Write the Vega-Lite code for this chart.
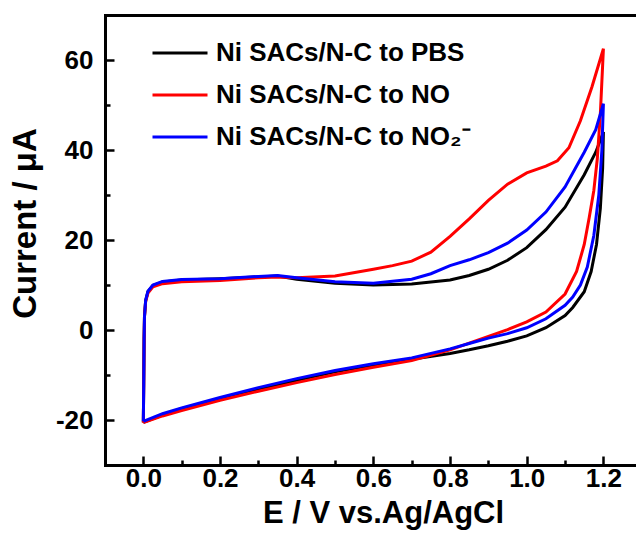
{
  "$schema": "https://vega.github.io/schema/vega-lite/v6.json",
  "width": 531,
  "height": 450,
  "autosize": {"type": "none"},
  "padding": {"left": 105, "top": 15, "right": 0, "bottom": 86},
  "background": "white",
  "config": {
    "view": {"stroke": null},
    "font": "Liberation Sans",
    "axis": {"grid": false, "domainColor": "black", "tickColor": "black", "labelColor": "black", "titleColor": "black", "domainCap": "square"}
  },
  "data": {
    "values": [
      {"s": "Ni SACs/N-C to PBS", "k": 0, "E": 0, "I": -20.5},
      {"s": "Ni SACs/N-C to PBS", "k": 1, "E": 0.001, "I": -12},
      {"s": "Ni SACs/N-C to PBS", "k": 2, "E": 0.002, "I": -2},
      {"s": "Ni SACs/N-C to PBS", "k": 3, "E": 0.003, "I": 3},
      {"s": "Ni SACs/N-C to PBS", "k": 4, "E": 0.006, "I": 6.5},
      {"s": "Ni SACs/N-C to PBS", "k": 5, "E": 0.012, "I": 8.5},
      {"s": "Ni SACs/N-C to PBS", "k": 6, "E": 0.025, "I": 9.9},
      {"s": "Ni SACs/N-C to PBS", "k": 7, "E": 0.05, "I": 10.7},
      {"s": "Ni SACs/N-C to PBS", "k": 8, "E": 0.1, "I": 11.1},
      {"s": "Ni SACs/N-C to PBS", "k": 9, "E": 0.2, "I": 11.4},
      {"s": "Ni SACs/N-C to PBS", "k": 10, "E": 0.3, "I": 11.8},
      {"s": "Ni SACs/N-C to PBS", "k": 11, "E": 0.35, "I": 12},
      {"s": "Ni SACs/N-C to PBS", "k": 12, "E": 0.4, "I": 11.3},
      {"s": "Ni SACs/N-C to PBS", "k": 13, "E": 0.5, "I": 10.4},
      {"s": "Ni SACs/N-C to PBS", "k": 14, "E": 0.6, "I": 10.0},
      {"s": "Ni SACs/N-C to PBS", "k": 15, "E": 0.7, "I": 10.2},
      {"s": "Ni SACs/N-C to PBS", "k": 16, "E": 0.8, "I": 11.1},
      {"s": "Ni SACs/N-C to PBS", "k": 17, "E": 0.85, "I": 12.1},
      {"s": "Ni SACs/N-C to PBS", "k": 18, "E": 0.9, "I": 13.5},
      {"s": "Ni SACs/N-C to PBS", "k": 19, "E": 0.95, "I": 15.5},
      {"s": "Ni SACs/N-C to PBS", "k": 20, "E": 1.0, "I": 18.3},
      {"s": "Ni SACs/N-C to PBS", "k": 21, "E": 1.05, "I": 22.3},
      {"s": "Ni SACs/N-C to PBS", "k": 22, "E": 1.1, "I": 27.3},
      {"s": "Ni SACs/N-C to PBS", "k": 23, "E": 1.15, "I": 34.5},
      {"s": "Ni SACs/N-C to PBS", "k": 24, "E": 1.18, "I": 39.5},
      {"s": "Ni SACs/N-C to PBS", "k": 25, "E": 1.2, "I": 44},
      {"s": "Ni SACs/N-C to PBS", "k": 26, "E": 1.198, "I": 36},
      {"s": "Ni SACs/N-C to PBS", "k": 27, "E": 1.192, "I": 27},
      {"s": "Ni SACs/N-C to PBS", "k": 28, "E": 1.182, "I": 19},
      {"s": "Ni SACs/N-C to PBS", "k": 29, "E": 1.168, "I": 13},
      {"s": "Ni SACs/N-C to PBS", "k": 30, "E": 1.15, "I": 8.5},
      {"s": "Ni SACs/N-C to PBS", "k": 31, "E": 1.12, "I": 5},
      {"s": "Ni SACs/N-C to PBS", "k": 32, "E": 1.1, "I": 3.2},
      {"s": "Ni SACs/N-C to PBS", "k": 33, "E": 1.05, "I": 0.5},
      {"s": "Ni SACs/N-C to PBS", "k": 34, "E": 1.0, "I": -1.3},
      {"s": "Ni SACs/N-C to PBS", "k": 35, "E": 0.95, "I": -2.5},
      {"s": "Ni SACs/N-C to PBS", "k": 36, "E": 0.9, "I": -3.5},
      {"s": "Ni SACs/N-C to PBS", "k": 37, "E": 0.85, "I": -4.4},
      {"s": "Ni SACs/N-C to PBS", "k": 38, "E": 0.8, "I": -5.2},
      {"s": "Ni SACs/N-C to PBS", "k": 39, "E": 0.7, "I": -6.5},
      {"s": "Ni SACs/N-C to PBS", "k": 40, "E": 0.6, "I": -7.8},
      {"s": "Ni SACs/N-C to PBS", "k": 41, "E": 0.5, "I": -9.3},
      {"s": "Ni SACs/N-C to PBS", "k": 42, "E": 0.4, "I": -11.2},
      {"s": "Ni SACs/N-C to PBS", "k": 43, "E": 0.3, "I": -13.2},
      {"s": "Ni SACs/N-C to PBS", "k": 44, "E": 0.2, "I": -15.3},
      {"s": "Ni SACs/N-C to PBS", "k": 45, "E": 0.1, "I": -17.5},
      {"s": "Ni SACs/N-C to PBS", "k": 46, "E": 0.05, "I": -18.9},
      {"s": "Ni SACs/N-C to PBS", "k": 47, "E": 0, "I": -20.5},

      {"s": "Ni SACs/N-C to NO", "k": 0, "E": 0, "I": -20.6},
      {"s": "Ni SACs/N-C to NO", "k": 1, "E": 0.001, "I": -12},
      {"s": "Ni SACs/N-C to NO", "k": 2, "E": 0.002, "I": -2},
      {"s": "Ni SACs/N-C to NO", "k": 3, "E": 0.003, "I": 3},
      {"s": "Ni SACs/N-C to NO", "k": 4, "E": 0.006, "I": 6.3},
      {"s": "Ni SACs/N-C to NO", "k": 5, "E": 0.012, "I": 8.2},
      {"s": "Ni SACs/N-C to NO", "k": 6, "E": 0.025, "I": 9.6},
      {"s": "Ni SACs/N-C to NO", "k": 7, "E": 0.05, "I": 10.3},
      {"s": "Ni SACs/N-C to NO", "k": 8, "E": 0.1, "I": 10.7},
      {"s": "Ni SACs/N-C to NO", "k": 9, "E": 0.2, "I": 11},
      {"s": "Ni SACs/N-C to NO", "k": 10, "E": 0.3, "I": 11.6},
      {"s": "Ni SACs/N-C to NO", "k": 11, "E": 0.35, "I": 11.8},
      {"s": "Ni SACs/N-C to NO", "k": 12, "E": 0.4, "I": 11.6},
      {"s": "Ni SACs/N-C to NO", "k": 13, "E": 0.5, "I": 12.0},
      {"s": "Ni SACs/N-C to NO", "k": 14, "E": 0.6, "I": 13.5},
      {"s": "Ni SACs/N-C to NO", "k": 15, "E": 0.65, "I": 14.3},
      {"s": "Ni SACs/N-C to NO", "k": 16, "E": 0.7, "I": 15.3},
      {"s": "Ni SACs/N-C to NO", "k": 17, "E": 0.75, "I": 17.3},
      {"s": "Ni SACs/N-C to NO", "k": 18, "E": 0.8, "I": 20.8},
      {"s": "Ni SACs/N-C to NO", "k": 19, "E": 0.85, "I": 24.7},
      {"s": "Ni SACs/N-C to NO", "k": 20, "E": 0.9, "I": 28.8},
      {"s": "Ni SACs/N-C to NO", "k": 21, "E": 0.95, "I": 32.4},
      {"s": "Ni SACs/N-C to NO", "k": 22, "E": 1.0, "I": 34.9},
      {"s": "Ni SACs/N-C to NO", "k": 23, "E": 1.05, "I": 36.4},
      {"s": "Ni SACs/N-C to NO", "k": 24, "E": 1.08, "I": 37.6},
      {"s": "Ni SACs/N-C to NO", "k": 25, "E": 1.11, "I": 40.5},
      {"s": "Ni SACs/N-C to NO", "k": 26, "E": 1.14, "I": 46.5},
      {"s": "Ni SACs/N-C to NO", "k": 27, "E": 1.17, "I": 54},
      {"s": "Ni SACs/N-C to NO", "k": 28, "E": 1.2, "I": 62.5},
      {"s": "Ni SACs/N-C to NO", "k": 29, "E": 1.192, "I": 48},
      {"s": "Ni SACs/N-C to NO", "k": 30, "E": 1.184, "I": 38},
      {"s": "Ni SACs/N-C to NO", "k": 31, "E": 1.175, "I": 31},
      {"s": "Ni SACs/N-C to NO", "k": 32, "E": 1.163, "I": 25},
      {"s": "Ni SACs/N-C to NO", "k": 33, "E": 1.15, "I": 19},
      {"s": "Ni SACs/N-C to NO", "k": 34, "E": 1.13, "I": 13},
      {"s": "Ni SACs/N-C to NO", "k": 35, "E": 1.1, "I": 8},
      {"s": "Ni SACs/N-C to NO", "k": 36, "E": 1.05, "I": 4},
      {"s": "Ni SACs/N-C to NO", "k": 37, "E": 1.0, "I": 1.8},
      {"s": "Ni SACs/N-C to NO", "k": 38, "E": 0.95, "I": 0.1},
      {"s": "Ni SACs/N-C to NO", "k": 39, "E": 0.9, "I": -1.4},
      {"s": "Ni SACs/N-C to NO", "k": 40, "E": 0.85, "I": -2.9},
      {"s": "Ni SACs/N-C to NO", "k": 41, "E": 0.8, "I": -4.4},
      {"s": "Ni SACs/N-C to NO", "k": 42, "E": 0.7, "I": -6.8},
      {"s": "Ni SACs/N-C to NO", "k": 43, "E": 0.6, "I": -8.3},
      {"s": "Ni SACs/N-C to NO", "k": 44, "E": 0.5, "I": -9.9},
      {"s": "Ni SACs/N-C to NO", "k": 45, "E": 0.4, "I": -11.7},
      {"s": "Ni SACs/N-C to NO", "k": 46, "E": 0.3, "I": -13.6},
      {"s": "Ni SACs/N-C to NO", "k": 47, "E": 0.2, "I": -15.6},
      {"s": "Ni SACs/N-C to NO", "k": 48, "E": 0.1, "I": -17.9},
      {"s": "Ni SACs/N-C to NO", "k": 49, "E": 0.05, "I": -19.1},
      {"s": "Ni SACs/N-C to NO", "k": 50, "E": 0, "I": -20.6},

      {"s": "Ni SACs/N-C to NO₂⁻", "k": 0, "E": 0, "I": -20.3},
      {"s": "Ni SACs/N-C to NO₂⁻", "k": 1, "E": 0.001, "I": -12},
      {"s": "Ni SACs/N-C to NO₂⁻", "k": 2, "E": 0.002, "I": -2},
      {"s": "Ni SACs/N-C to NO₂⁻", "k": 3, "E": 0.003, "I": 3},
      {"s": "Ni SACs/N-C to NO₂⁻", "k": 4, "E": 0.006, "I": 6.6},
      {"s": "Ni SACs/N-C to NO₂⁻", "k": 5, "E": 0.012, "I": 8.6},
      {"s": "Ni SACs/N-C to NO₂⁻", "k": 6, "E": 0.025, "I": 10},
      {"s": "Ni SACs/N-C to NO₂⁻", "k": 7, "E": 0.05, "I": 10.8},
      {"s": "Ni SACs/N-C to NO₂⁻", "k": 8, "E": 0.1, "I": 11.2},
      {"s": "Ni SACs/N-C to NO₂⁻", "k": 9, "E": 0.2, "I": 11.4},
      {"s": "Ni SACs/N-C to NO₂⁻", "k": 10, "E": 0.3, "I": 11.9},
      {"s": "Ni SACs/N-C to NO₂⁻", "k": 11, "E": 0.35, "I": 12.1},
      {"s": "Ni SACs/N-C to NO₂⁻", "k": 12, "E": 0.4, "I": 11.6},
      {"s": "Ni SACs/N-C to NO₂⁻", "k": 13, "E": 0.5, "I": 10.7},
      {"s": "Ni SACs/N-C to NO₂⁻", "k": 14, "E": 0.6, "I": 10.4},
      {"s": "Ni SACs/N-C to NO₂⁻", "k": 15, "E": 0.7, "I": 11.3},
      {"s": "Ni SACs/N-C to NO₂⁻", "k": 16, "E": 0.75, "I": 12.5},
      {"s": "Ni SACs/N-C to NO₂⁻", "k": 17, "E": 0.8, "I": 14.3},
      {"s": "Ni SACs/N-C to NO₂⁻", "k": 18, "E": 0.85, "I": 15.6},
      {"s": "Ni SACs/N-C to NO₂⁻", "k": 19, "E": 0.9, "I": 17.2},
      {"s": "Ni SACs/N-C to NO₂⁻", "k": 20, "E": 0.95, "I": 19.3},
      {"s": "Ni SACs/N-C to NO₂⁻", "k": 21, "E": 1.0, "I": 22.2},
      {"s": "Ni SACs/N-C to NO₂⁻", "k": 22, "E": 1.05, "I": 26.2},
      {"s": "Ni SACs/N-C to NO₂⁻", "k": 23, "E": 1.1, "I": 31.8},
      {"s": "Ni SACs/N-C to NO₂⁻", "k": 24, "E": 1.15, "I": 39.5},
      {"s": "Ni SACs/N-C to NO₂⁻", "k": 25, "E": 1.18, "I": 44.5},
      {"s": "Ni SACs/N-C to NO₂⁻", "k": 26, "E": 1.2, "I": 50.3},
      {"s": "Ni SACs/N-C to NO₂⁻", "k": 27, "E": 1.196, "I": 40},
      {"s": "Ni SACs/N-C to NO₂⁻", "k": 28, "E": 1.188, "I": 30},
      {"s": "Ni SACs/N-C to NO₂⁻", "k": 29, "E": 1.175, "I": 21},
      {"s": "Ni SACs/N-C to NO₂⁻", "k": 30, "E": 1.158, "I": 14},
      {"s": "Ni SACs/N-C to NO₂⁻", "k": 31, "E": 1.14, "I": 10},
      {"s": "Ni SACs/N-C to NO₂⁻", "k": 32, "E": 1.12, "I": 7.3},
      {"s": "Ni SACs/N-C to NO₂⁻", "k": 33, "E": 1.1, "I": 5.5},
      {"s": "Ni SACs/N-C to NO₂⁻", "k": 34, "E": 1.05, "I": 2.5},
      {"s": "Ni SACs/N-C to NO₂⁻", "k": 35, "E": 1.0, "I": 0.5},
      {"s": "Ni SACs/N-C to NO₂⁻", "k": 36, "E": 0.95, "I": -0.8},
      {"s": "Ni SACs/N-C to NO₂⁻", "k": 37, "E": 0.9, "I": -1.8},
      {"s": "Ni SACs/N-C to NO₂⁻", "k": 38, "E": 0.85, "I": -3},
      {"s": "Ni SACs/N-C to NO₂⁻", "k": 39, "E": 0.8, "I": -4.2},
      {"s": "Ni SACs/N-C to NO₂⁻", "k": 40, "E": 0.7, "I": -6.2},
      {"s": "Ni SACs/N-C to NO₂⁻", "k": 41, "E": 0.6, "I": -7.5},
      {"s": "Ni SACs/N-C to NO₂⁻", "k": 42, "E": 0.5, "I": -9},
      {"s": "Ni SACs/N-C to NO₂⁻", "k": 43, "E": 0.4, "I": -10.8},
      {"s": "Ni SACs/N-C to NO₂⁻", "k": 44, "E": 0.3, "I": -12.8},
      {"s": "Ni SACs/N-C to NO₂⁻", "k": 45, "E": 0.2, "I": -15},
      {"s": "Ni SACs/N-C to NO₂⁻", "k": 46, "E": 0.1, "I": -17.3},
      {"s": "Ni SACs/N-C to NO₂⁻", "k": 47, "E": 0.05, "I": -18.6},
      {"s": "Ni SACs/N-C to NO₂⁻", "k": 48, "E": 0, "I": -20.3}
    ]
  },
  "layer": [
    {
      "mark": {"type": "point", "opacity": 0},
      "encoding": {
        "x": {"field": "E", "type": "quantitative", "scale": {"domain": [-0.1, 1.285], "nice": false, "zero": false},
          "axis": {"orient": "bottom", "values": [0.1, 0.3, 0.5, 0.7, 0.9, 1.1], "labels": false, "domain": false, "title": null, "tickSize": -5, "tickWidth": 2.5}},
        "y": {"field": "I", "type": "quantitative", "scale": {"domain": [-30, 70], "nice": false, "zero": false},
          "axis": {"orient": "left", "values": [-10, 10, 30, 50], "labels": false, "domain": false, "title": null, "tickSize": -5, "tickWidth": 2.5}}
      }
    },
    {
      "mark": {"type": "point", "opacity": 0},
      "encoding": {
        "x": {"field": "E", "type": "quantitative",
          "axis": {"orient": "top", "labels": false, "ticks": false, "domain": true, "domainWidth": 3, "title": null}},
        "y": {"field": "I", "type": "quantitative", "axis": null}
      }
    },
    {
      "mark": {"type": "line", "strokeWidth": 3},
      "encoding": {
        "x": {"field": "E", "type": "quantitative",
          "axis": {"orient": "bottom", "values": [0, 0.2, 0.4, 0.6, 0.8, 1.0, 1.2], "format": ".1f", "labelFlush": false,
            "tickSize": -9, "tickWidth": 2.5, "domainWidth": 3, "labelFontSize": 26, "labelFontWeight": "bold", "labelPadding": 9,
            "title": "E / V vs.Ag/AgCl", "titleFontSize": 31, "titleFontWeight": "bold", "titleX": 278, "titleY": 48, "titleBaseline": "middle", "titleAlign": "center"}},
        "y": {"field": "I", "type": "quantitative",
          "axis": {"orient": "left", "values": [-20, 0, 20, 40, 60], "labelFlush": false, "labelExpr": "'' + datum.value",
            "tickSize": -9, "tickWidth": 2.5, "domainWidth": 3, "labelFontSize": 26, "labelFontWeight": "bold", "labelPadding": 21,
            "title": "Current / μA", "titleFontSize": 33, "titleFontWeight": "bold", "titleX": -80, "titleY": 208, "titleAngle": -90, "titleBaseline": "middle", "titleAlign": "center"}},
        "color": {"field": "s", "type": "nominal",
          "scale": {"domain": ["Ni SACs/N-C to PBS", "Ni SACs/N-C to NO", "Ni SACs/N-C to NO₂⁻"], "range": ["#000000", "#ff0000", "#0000ff"]},
          "legend": {"orient": "none", "legendX": 46, "legendY": 9, "title": null, "symbolType": "stroke", "symbolSize": 3025, "symbolStrokeWidth": 3,
            "labelFontSize": 26, "labelFont": "Liberation Sans", "labelFontWeight": "bold", "labelColor": "black", "labelOffset": 7, "labelLimit": 0, "rowPadding": -1, "padding": 0}},
        "order": {"field": "k", "type": "quantitative"}
      }
    }
  ],
  "resolve": {"axis": {"x": "independent", "y": "independent"}}
}
